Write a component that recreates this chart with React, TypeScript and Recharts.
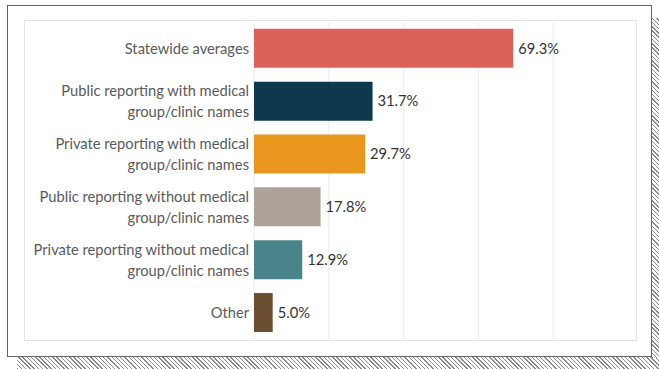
import React from 'react';
import { BarChart, Bar, XAxis, YAxis, CartesianGrid, Cell, LabelList } from 'recharts';

const categories = [
  'Statewide averages',
  'Public reporting with medical\ngroup/clinic names',
  'Private reporting with medical\ngroup/clinic names',
  'Public reporting without medical\ngroup/clinic names',
  'Private reporting without medical\ngroup/clinic names',
  'Other',
];
const values = [69.3, 31.7, 29.7, 17.8, 12.9, 5.0];
const colors = ['#d9635a', '#0e384d', '#e9961f', '#ada398', '#4a8389', '#6a5030'];
const gridTicks = [0, 20, 40, 60, 80];

const data = categories.map((c, i) => ({ name: c, value: values[i], color: colors[i] }));

const FONT = 'Lato, "Open Sans", sans-serif';

const CatTick = (props: any) => {
  const { x, y, payload } = props;
  const lines = String(payload.value).split('\n');
  const lh = 21;
  const start = -((lines.length - 1) * lh) / 2;
  return (
    <text x={x} y={y} textAnchor="end" fill="#5a5a5a" fontSize={14.7} fontFamily={FONT}>
      {lines.map((l, i) => (
        <tspan key={i} x={x} y={y + start + i * lh} dy="0.36em">{l}</tspan>
      ))}
    </text>
  );
};

export default function App() {
  const hatch = 'repeating-linear-gradient(45deg, #8a8a8a 0px, #8a8a8a 1px, #ffffff 1px, #ffffff 3px)';
  return (
    <div style={{ position: 'fixed', left: 0, top: 0, width: 659, height: 369, background: '#fff', overflow: 'hidden' }}>
      <div style={{ position: 'absolute', left: 17, top: 355, width: 642, height: 14, background: hatch }} />
      <div style={{ position: 'absolute', left: 652, top: 18, width: 7, height: 340, background: hatch }} />
      <div style={{ position: 'absolute', left: 7, top: 5, width: 645, height: 352, border: '1.5px solid #666', background: '#fff', boxSizing: 'border-box' }} />
      <div style={{ position: 'absolute', left: 24, top: 20, width: 613, height: 321, border: '1px solid #e3e3e3', boxSizing: 'border-box', background: '#fff' }}>
        <BarChart
          width={611}
          height={319}
          data={data}
          layout="vertical"
          margin={{ top: 1, right: 8, bottom: 1, left: 0 }}
          barCategoryGap="13%"
        >
          <CartesianGrid horizontal={false} stroke="#ececec" strokeWidth={1} verticalValues={gridTicks} />
          <XAxis type="number" domain={[0, 100]} ticks={gridTicks} hide />
          <YAxis
            type="category"
            dataKey="name"
            width={229}
            axisLine={false}
            tickLine={false}
            tickSize={0}
            tick={<CatTick />}
            interval={0}
            tickMargin={5}
          />
          <Bar dataKey="value" isAnimationActive={false}>
            {data.map((d, i) => (
              <Cell key={i} fill={d.color} />
            ))}
            <LabelList
              dataKey="value"
              position="right"
              offset={5}
              formatter={(v: any) => `${Number(v).toFixed(1)}%`}
              style={{ fill: '#333', fontSize: 14.7, fontFamily: FONT }}
            />
          </Bar>
        </BarChart>
      </div>
    </div>
  );
}
